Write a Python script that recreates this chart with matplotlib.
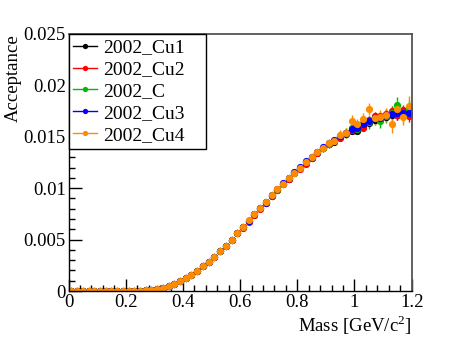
import matplotlib
matplotlib.use("Agg")
import matplotlib.pyplot as plt
from matplotlib.lines import Line2D
import numpy as np

# 60 mass bins of 20 MeV from 0 to 1.2 GeV/c^2
bin_edges = np.linspace(0.0, 1.2, 61)
mass = 0.5 * (bin_edges[:-1] + bin_edges[1:])

# acceptance below 0.6 GeV/c^2 (same for all targets, 30 bins)
acc_low = [0.0, 0.0, 0.0, 0.0, 0.0, 0.0, 0.0, 0.0, 0.0, 0.0,
           0.0, 0.00001, 0.00003, 0.00006, 0.0001, 0.00016, 0.00027, 0.00046, 0.00071, 0.00097,
           0.00124, 0.0016, 0.00195, 0.0024, 0.0028, 0.0033, 0.0039, 0.0044, 0.0050, 0.0056]
err_low = [0.00001, 0.00001, 0.00001, 0.00001, 0.00001, 0.00001, 0.00001, 0.00001, 0.00001, 0.00001,
           0.00001, 0.00002, 0.00002, 0.00003, 0.00003, 0.00004, 0.00005, 0.00006, 0.00007, 0.00008,
           0.00008, 0.00009, 0.0001, 0.0001, 0.00011, 0.00012, 0.00012, 0.00013, 0.00014, 0.00015]

# acceptance from 0.61 to 1.19 GeV/c^2 (30 bins) per target
acc_cu1 = [0.0062, 0.0068, 0.0074, 0.0081, 0.0087, 0.0092, 0.0098, 0.0104, 0.0109, 0.0115,
           0.0120, 0.0125, 0.0129, 0.0134, 0.0139, 0.0143, 0.0145, 0.0150, 0.0153, 0.0156,
           0.0156, 0.0160, 0.0163, 0.0166, 0.0168, 0.0169, 0.0171, 0.0171, 0.0171, 0.0172]
acc_cu2 = [0.0061, 0.0067, 0.0074, 0.0080, 0.0086, 0.0092, 0.0098, 0.0104, 0.0109, 0.0115,
           0.0119, 0.0124, 0.0129, 0.0134, 0.0139, 0.0143, 0.0146, 0.0149, 0.0154, 0.0157,
           0.0160, 0.0159, 0.0166, 0.0170, 0.0170, 0.0172, 0.0175, 0.0171, 0.0176, 0.0170]
acc_c = [0.0062, 0.0068, 0.0075, 0.0081, 0.0087, 0.0093, 0.0098, 0.0104, 0.0110, 0.0115,
         0.0120, 0.0125, 0.0130, 0.0135, 0.0139, 0.0143, 0.0146, 0.0151, 0.0154, 0.0159,
         0.0158, 0.0163, 0.0164, 0.0168, 0.0165, 0.0170, 0.0173, 0.0181, 0.0172, 0.0177]
acc_cu3 = [0.0062, 0.0068, 0.0075, 0.0081, 0.0086, 0.0093, 0.0099, 0.0105, 0.0110, 0.0116,
           0.0121, 0.0126, 0.0130, 0.0135, 0.0140, 0.0144, 0.0147, 0.0151, 0.0154, 0.0158,
           0.0159, 0.0162, 0.0165, 0.0168, 0.0168, 0.0171, 0.0172, 0.0173, 0.0173, 0.0173]
acc_cu4 = [0.0062, 0.0069, 0.0075, 0.0081, 0.0087, 0.0093, 0.0099, 0.0104, 0.0110, 0.0115,
           0.0120, 0.0125, 0.0130, 0.0135, 0.0139, 0.0144, 0.0146, 0.0152, 0.0154, 0.0165,
           0.0162, 0.0167, 0.0177, 0.0168, 0.0169, 0.0171, 0.0162, 0.0177, 0.0169, 0.0180]

err_cu1 = [0.00009, 0.0001, 0.0001, 0.00011, 0.00012, 0.00012, 0.00013, 0.00014, 0.00015, 0.00016,
           0.00017, 0.00018, 0.00019, 0.0002, 0.00021, 0.00022, 0.00024, 0.00025, 0.00027, 0.00028,
           0.0003, 0.00031, 0.00033, 0.00034, 0.00036, 0.00038, 0.0004, 0.00042, 0.00044, 0.00046]
err_cu2 = [0.0001, 0.00011, 0.00012, 0.00013, 0.00014, 0.00015, 0.00016, 0.00017, 0.00018, 0.00019,
           0.0002, 0.00021, 0.00022, 0.00024, 0.00025, 0.00027, 0.00028, 0.0003, 0.00032, 0.00034,
           0.00036, 0.00038, 0.0004, 0.00042, 0.00044, 0.00046, 0.00048, 0.0005, 0.00052, 0.00055]
err_c = [0.00014, 0.00015, 0.00016, 0.00017, 0.00018, 0.0002, 0.00021, 0.00023, 0.00025, 0.00027,
         0.00029, 0.00031, 0.00033, 0.00035, 0.00037, 0.0004, 0.00042, 0.00045, 0.00048, 0.0005,
         0.00053, 0.00056, 0.0006, 0.00063, 0.00066, 0.0007, 0.00073, 0.00077, 0.0008, 0.00085]
err_cu3 = [0.00006, 0.00007, 0.00007, 0.00008, 0.00008, 0.00009, 0.0001, 0.0001, 0.00011, 0.00012,
           0.00012, 0.00013, 0.00014, 0.00015, 0.00016, 0.00017, 0.00018, 0.00019, 0.0002, 0.00021,
           0.00022, 0.00023, 0.00024, 0.00026, 0.00027, 0.00028, 0.0003, 0.00031, 0.00033, 0.00035]
err_cu4 = [0.00014, 0.00015, 0.00016, 0.00017, 0.00018, 0.0002, 0.00021, 0.00023, 0.00025, 0.00027,
           0.00029, 0.00031, 0.00033, 0.00035, 0.00037, 0.0004, 0.00042, 0.00045, 0.00048, 0.0006,
           0.00055, 0.0006, 0.00055, 0.00065, 0.0007, 0.0007, 0.0008, 0.0008, 0.0008, 0.001]

labels = ["2002_Cu1", "2002_Cu2", "2002_C", "2002_Cu3", "2002_Cu4"]
colors = ["#000000", "#ff0000", "#00bb00", "#0000ff", "#ff8c00"]
series = [(acc_cu1, err_cu1), (acc_cu2, err_cu2), (acc_c, err_c),
          (acc_cu3, err_cu3), (acc_cu4, err_cu4)]

plt.rcParams["font.family"] = ["Liberation Serif", "DejaVu Serif"]
plt.rcParams["mathtext.fontset"] = "custom"
plt.rcParams["mathtext.rm"] = "Liberation Serif"
fs = 13.5

fig = plt.figure(figsize=(4.58, 3.43), dpi=100)
ax = fig.add_axes([0.1496, 0.1516, 0.7493, 0.7493])

for (acc, err), col in zip(series, colors):
    y = np.array(acc_low + acc)
    e = np.array(err_low + err)
    ax.errorbar(mass, y, yerr=e, fmt="o", color=col, ms=5.2, mew=0,
                elinewidth=1.0, capsize=1.2, capthick=1.0)

ax.set_xlim(0, 1.2)
ax.set_ylim(0, 0.025)
ax.set_xticks([0, 0.2, 0.4, 0.6, 0.8, 1.0, 1.2])
ax.set_xticklabels(["0", "0.2", "0.4", "0.6", "0.8", "1", "1.2"])
ax.set_yticks([0, 0.005, 0.01, 0.015, 0.02, 0.025])
ax.set_yticklabels(["0", "0.005", "0.01", "0.015", "0.02", "0.025"])
ax.set_xticks(np.arange(0, 1.2001, 0.04), minor=True)
ax.set_yticks(np.arange(0, 0.02501, 0.001), minor=True)
ax.tick_params(which="both", direction="in", top=False, right=False,
               labelsize=fs, pad=2, width=1)
ax.tick_params(which="major", length=9)
ax.tick_params(which="minor", length=4.5)

for s in ["left", "bottom"]:
    ax.spines[s].set_linewidth(1)
for s in ["top", "right"]:
    ax.spines[s].set_color("#555555")
    ax.spines[s].set_linewidth(1.3)

ax.set_xlabel(r"Mass [GeV/c$^{2}$]", fontsize=fs, loc="right", labelpad=2)
ax.set_ylabel("Acceptance", fontsize=fs, loc="top")
ax.yaxis.set_label_coords(-0.135, 1.0)

handles = [Line2D([], [], color=c, lw=1, marker="o", ms=3.8, mew=0) for c in colors]
leg = ax.legend(handles, labels, loc="upper left", bbox_to_anchor=(0, 0, 0.3998, 1.0),
                mode="expand", borderaxespad=0, fontsize=14, frameon=True,
                fancybox=False, edgecolor="black", framealpha=1,
                handlelength=1.2, handletextpad=0.35, labelspacing=0.22,
                borderpad=0.25)
leg.get_frame().set_linewidth(1)

fig.savefig("out.png", dpi=100)
